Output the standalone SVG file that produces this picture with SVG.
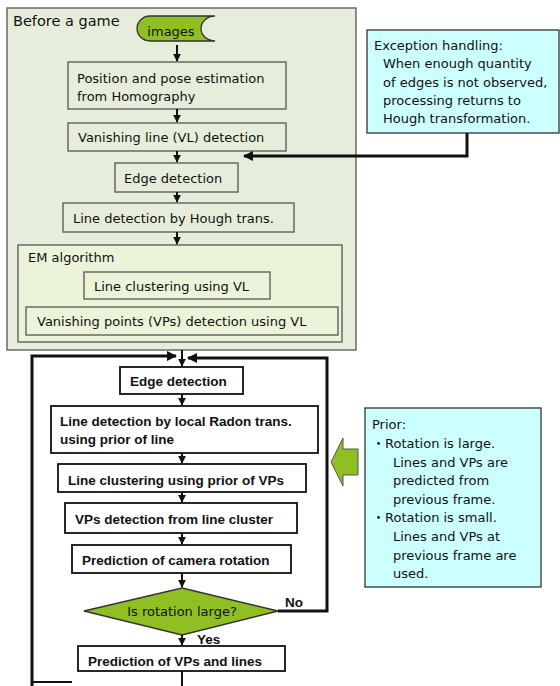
<svg xmlns="http://www.w3.org/2000/svg" width="560" height="686" viewBox="0 0 560 686">
<style>
text{font-family:"DejaVu Sans","Noto Sans CJK JP",sans-serif;font-size:13px;fill:#111}
.b{font-family:"Liberation Sans",Arial,sans-serif;font-weight:bold;font-size:13.5px}
.box{fill:#e6eedb;stroke:#555;stroke-width:1.3}
.em{fill:#ebf3d8;stroke:#555;stroke-width:1.3}
.lb{fill:#fff;stroke:#111;stroke-width:1.8}
.note{fill:#ccffff;stroke:#333;stroke-width:1.3}
.ln{fill:none;stroke:#111;stroke-width:2}
.thick{fill:none;stroke:#111;stroke-width:3}
</style>
<defs>
<marker id="ah" viewBox="0 0 10 10" refX="9" refY="5" markerWidth="4" markerHeight="4" orient="auto" markerUnits="strokeWidth">
<path d="M0,0 L10,5 L0,10 z" fill="#111"/>
</marker>
<marker id="ah2" viewBox="0 0 10 10" refX="9" refY="5" markerWidth="3.5" markerHeight="3.5" orient="auto" markerUnits="strokeWidth">
<path d="M0,0 L10,5 L0,10 z" fill="#111"/>
</marker>
</defs>

<g id="before-game">
<rect x="7" y="8" width="349" height="342" class="box"/>
<text x="13" y="26" style="font-size:14.5px">Before a game</text>
</g>

<g id="images">
<path d="M150,16 H215 A14,12.5 0 0 0 215,41 H150 A13,12.5 0 0 1 150,16 Z" fill="#8fbf22" stroke="#333" stroke-width="1.3"/>
<text x="171" y="36" text-anchor="middle">images</text>
</g>

<g id="pose">
<rect x="68" y="62" width="218" height="47" class="box"/>
<text x="77" y="83">Position and pose estimation</text>
<text x="77" y="101">from Homography</text>
</g>

<g id="vl">
<rect x="68" y="123" width="218" height="28" class="box"/>
<text x="78" y="142">Vanishing line (VL) detection</text>
</g>

<g id="edge1">
<rect x="115" y="163" width="123" height="29" class="box"/>
<text x="124" y="183">Edge detection</text>
</g>

<g id="hough">
<rect x="63" y="203" width="231" height="29" class="box"/>
<text x="73" y="223">Line detection by Hough trans.</text>
</g>

<g id="em">
<rect x="18" y="245" width="324" height="97" class="em"/>
<text x="28" y="262">EM algorithm</text>
</g>

<g id="clust-vl">
<rect x="84" y="272" width="186" height="27" class="em"/>
<text x="94" y="291">Line clustering using VL</text>
</g>

<g id="vps-vl">
<rect x="26" y="307" width="312" height="28" class="em"/>
<text x="37" y="326">Vanishing points (VPs) detection using VL</text>
</g>

<g id="exception">
<rect x="367" y="30" width="192" height="103" class="note"/>
<text x="374" y="50">Exception handling:</text>
<text x="383" y="68">When enough quantity</text>
<text x="383" y="87">of edges is not observed,</text>
<text x="383" y="105">processing returns to</text>
<text x="383" y="123">Hough transformation.</text>
</g>

<g id="edge2">
<rect x="120" y="367" width="123" height="27" class="lb"/>
<text x="130" y="386" class="b">Edge detection</text>
</g>

<g id="radon">
<rect x="51" y="406" width="267" height="47" class="lb"/>
<text x="60" y="426" class="b">Line detection by local Radon trans.</text>
<text x="60" y="444" class="b">using prior of line</text>
</g>

<g id="clust-prior">
<rect x="58" y="464" width="248" height="28" class="lb"/>
<text x="68" y="485" class="b">Line clustering using prior of VPs</text>
</g>

<g id="vps-cluster">
<rect x="65" y="503" width="232" height="30" class="lb"/>
<text x="75" y="524" class="b">VPs detection from line cluster</text>
</g>

<g id="cam-rot">
<rect x="72" y="545" width="219" height="28" class="lb"/>
<text x="82" y="565" class="b">Prediction of camera rotation</text>
</g>

<g id="decision">
<polygon points="182,588 278,611 182,635 84,611" fill="#8fbf22" stroke="#333" stroke-width="1.3"/>
<text x="182" y="616" text-anchor="middle">Is rotation large?</text>
</g>

<g id="pred-vps">
<rect x="78" y="646" width="207" height="25" class="lb"/>
<text x="88" y="666" class="b">Prediction of VPs and lines</text>
</g>

<g id="prior">
<rect x="365" y="408" width="176" height="179" class="note"/>
<text x="372" y="429">Prior:</text>
<text x="372" y="448">・Rotation is large.</text>
<text x="393" y="467">Lines and VPs are</text>
<text x="393" y="485">predicted from</text>
<text x="393" y="504">previous frame.</text>
<text x="372" y="522">・Rotation is small.</text>
<text x="393" y="541">Lines and VPs at</text>
<text x="393" y="560">previous frame are</text>
<text x="393" y="578">used.</text>
</g>

<g id="prior-arrow">
<polygon points="331,462 343,438 343,449 358,449 358,475 343,475 343,486" fill="#8fbf22" stroke="#555" stroke-width="1"/>
</g>

<g id="connectors">
<line x1="177" y1="45" x2="177" y2="61" class="ln" marker-end="url(#ah)"/>
<line x1="177" y1="109" x2="177" y2="122" class="ln" marker-end="url(#ah)"/>
<line x1="177" y1="151" x2="177" y2="162" class="ln" marker-end="url(#ah)"/>
<line x1="177" y1="192" x2="177" y2="202" class="ln" marker-end="url(#ah)"/>
<line x1="177" y1="232" x2="177" y2="244" class="ln" marker-end="url(#ah)"/>
<polyline points="467,133 467,156 244,156" class="thick" marker-end="url(#ah2)"/>
<line x1="182" y1="350" x2="182" y2="366" class="ln" marker-end="url(#ah)"/>
<polyline points="32,686 32,356 176,356" class="thick" marker-end="url(#ah2)"/>
<polyline points="278,611 327,611 327,358 188,358" class="thick" marker-end="url(#ah2)"/>
<polyline points="32,682 72,682" class="ln"/>
<line x1="182" y1="394" x2="182" y2="405" class="ln" marker-end="url(#ah)"/>
<line x1="182" y1="453" x2="182" y2="463" class="ln" marker-end="url(#ah)"/>
<line x1="182" y1="492" x2="182" y2="502" class="ln" marker-end="url(#ah)"/>
<line x1="182" y1="533" x2="182" y2="544" class="ln" marker-end="url(#ah)"/>
<line x1="182" y1="573" x2="182" y2="587" class="ln" marker-end="url(#ah)"/>
<line x1="182" y1="635" x2="182" y2="645" class="ln" marker-end="url(#ah)"/>
<line x1="182" y1="671" x2="182" y2="686" class="ln"/>
<text x="285" y="607" class="b">No</text>
<text x="197" y="644" class="b">Yes</text>
</g>
</svg>
